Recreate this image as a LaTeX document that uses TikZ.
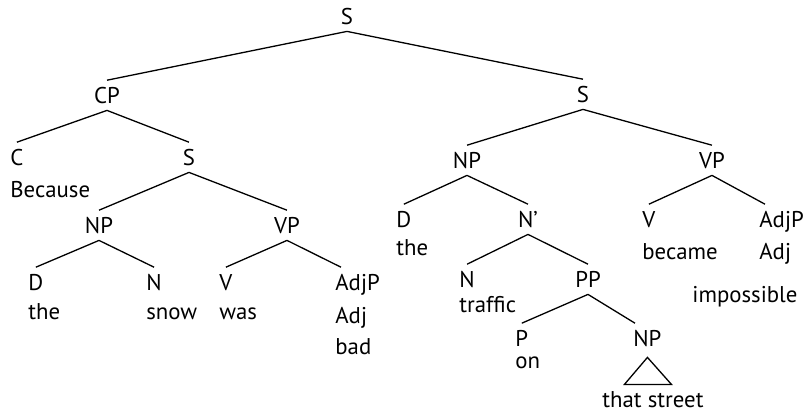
\documentclass[tikz,border=0pt]{standalone}
\usepackage{fontspec}
\setmainfont{PT Sans}
\usepackage{tikz}
\usetikzlibrary{positioning}
\tikzset{
  ptcat/.style={font=\fontsize{11.4}{13}\selectfont,inner xsep=0pt,inner ysep=3.5pt,
    text height=7.7pt,text depth=0pt,anchor=base},
  ptleaf/.style={ptcat,anchor=base west},
  ptword/.style={font=\fontsize{11.4}{13}\selectfont,inner sep=0pt,anchor=base west},
  ptedge/.style={line width=0.65pt,black},
}
\begin{document}
\begin{tikzpicture}[x=0.5pt,y=-0.5pt]
  \useasboundingbox (0,0) rectangle (811,414);
  % left clause
  \node[ptcat] (s0) at (347,24) {S};
  \node[ptcat] (cp) at (107,103) {CP};
  \node[ptleaf] (c) at (10,165) {C};
  \node[ptword] (w-because) at (10,197) {Because};
  \node[ptcat] (s1) at (189,165) {S};
  \node[ptcat] (np1) at (99,233) {NP};
  \node[ptcat] (vp1) at (287,233) {VP};
  \node[ptleaf] (d1) at (28,290) {D};
  \node[ptleaf] (n1) at (146,290) {N};
  \node[ptleaf] (v1) at (219,290) {V};
  \node[ptleaf] (adjp1) at (335,290) {AdjP};
  \node[ptword] (w-the1) at (28,319) {the};
  \node[ptword] (w-snow) at (146,319) {snow};
  \node[ptword] (w-was) at (219,319) {was};
  \node[ptword] (w-adj1) at (335,323) {Adj};
  \node[ptword] (w-bad) at (335,354) {bad};
  % main clause
  \node[ptcat] (s2) at (583,102) {S};
  \node[ptcat] (np2) at (467,168) {NP};
  \node[ptcat] (vp2) at (712,168) {VP};
  \node[ptleaf] (d2) at (396,227) {D};
  \node[ptword] (w-the2) at (396,255) {the};
  \node[ptcat] (nbar) at (528,227) {N’};
  \node[ptleaf] (n2) at (459,287) {N};
  \node[ptword] (w-traffic) at (459,312) {traffic};
  \node[ptcat] (pp) at (588,287) {PP};
  \node[ptleaf] (p) at (515,346) {P};
  \node[ptword] (w-on) at (515,368) {on};
  \node[ptleaf] (np3) at (633,346) {NP};
  \node[ptword,anchor=base] (w-street) at (653,407) {that street};
  \node[ptleaf] (v2) at (642,227) {V};
  \node[ptword] (w-became) at (642,259) {became};
  \node[ptleaf] (adjp2) at (759,227) {AdjP};
  \node[ptword] (w-adj2) at (759,259) {Adj};
  \node[ptword] (w-impossible) at (692,302) {impossible};
  % branches
  \draw[ptedge] (s0.south)--(cp.north) (s0.south)--(s2.north);
  \draw[ptedge] (cp.south)--(c.north) (cp.south)--(s1.north);
  \draw[ptedge] (s1.south)--(np1.north) (s1.south)--(vp1.north);
  \draw[ptedge] (np1.south)--(d1.north) (np1.south)--(n1.north);
  \draw[ptedge] (vp1.south)--(v1.north) (vp1.south)--([xshift=3pt]adjp1.north west);
  \draw[ptedge] (s2.south)--(np2.north) (s2.south)--(vp2.north);
  \draw[ptedge] (np2.south)--(d2.north) (np2.south)--(nbar.north);
  \draw[ptedge] (nbar.south)--(n2.north) (nbar.south)--(pp.north);
  \draw[ptedge] (pp.south)--(p.north) (pp.south)--([xshift=1pt]np3.north west);
  \draw[ptedge] (vp2.south)--(v2.north) (vp2.south)--([xshift=3pt]adjp2.north west);
  \draw[ptedge] ([yshift=-2pt]np3.south) -- ++(-23,27) -- ++(47,0) -- cycle;
\end{tikzpicture}
\end{document}
